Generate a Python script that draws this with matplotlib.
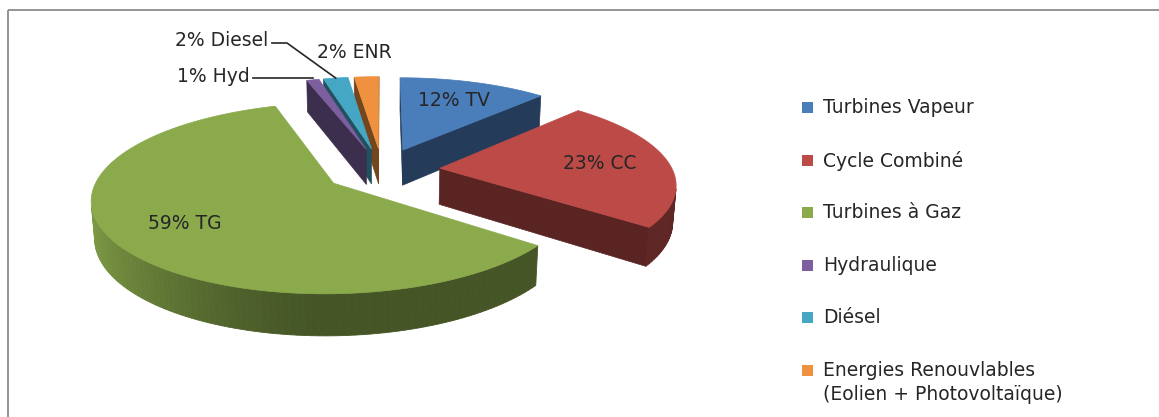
import numpy as np
import matplotlib
matplotlib.use("Agg")
import matplotlib.pyplot as plt
from matplotlib.patches import Polygon, Rectangle

# data
codes = ["TV", "CC", "TG", "Hyd", "Diesel", "ENR"]
shares = [12, 23, 59, 1, 2, 2]
legend_labels = ["Turbines Vapeur", "Cycle Combiné", "Turbines à Gaz",
                 "Hydraulique", "Diésel",
                 "Energies Renouvlables\n(Eolien + Photovoltaïque)"]
colors = ["#4a7ebb", "#bc4b47", "#8aaa4c", "#7d5fa0", "#45a7c4", "#f0913f"]

# 3d pie geometry (pixel space)
W, HPX = 1159, 417
CX, CY = 382, 170          # centre of the (unexploded) top face
S = 230                    # radius scale
ELEV = np.radians(24)
DIST = 6.0                 # camera distance, in radii
DEPTH = 0.17               # slice thickness, in radii
EXPLODE = 0.25
FONT = "DejaVu Sans"
FS = 13.5
INK = "#262626"

cam = np.array([0.0, -DIST * np.cos(ELEV), DIST * np.sin(ELEV)])
f0 = DIST / (DIST - DEPTH * np.sin(ELEV))
CY0 = CY + S * DEPTH * np.cos(ELEV) * f0


def proj(X, Y, Z):
    X, Y, Z = np.asarray(X, float), np.asarray(Y, float), np.asarray(Z, float)
    yc = Z * np.cos(ELEV) + Y * np.sin(ELEV)
    zc = Y * np.cos(ELEV) - Z * np.sin(ELEV)
    f = DIST / (DIST + zc)
    return CX + S * X * f, CY0 - S * yc * f


def shade(c, k):
    rgb = np.array(matplotlib.colors.to_rgb(c))
    return tuple(np.clip(rgb * k, 0, 1))


def visible(normal, point):
    return np.dot(normal, cam - point) > 0


fig = plt.figure(figsize=(W / 100, HPX / 100), dpi=100)
ax = fig.add_axes([0, 0, 1, 1])
ax.set_xlim(0, W)
ax.set_ylim(HPX, 0)
ax.axis("off")

vals = np.array(shares, float)
cum = np.concatenate([[0], np.cumsum(vals)]) / vals.sum()
t1s = np.radians(90 - 360 * cum[:-1])
t2s = np.radians(90 - 360 * cum[1:])

slices = []
for i in range(len(vals)):
    t1, t2 = t1s[i], t2s[i]
    mid = (t1 + t2) / 2
    ex, ey = EXPLODE * np.cos(mid), EXPLODE * np.sin(mid)
    slices.append((i, t1, t2, mid, ex, ey))

# far slices first
order = sorted(slices, key=lambda s: -(s[5] + 0.5 * np.sin(s[3])))

for i, t1, t2, mid, ex, ey in order:
    c = colors[i]
    n = max(int(abs(t1 - t2) / np.radians(1.5)), 2)
    ts = np.linspace(t1, t2, n + 1)
    # radial faces
    for t, nrm in ((t1, (-np.sin(t1), np.cos(t1))), (t2, (np.sin(t2), -np.cos(t2)))):
        p = np.array([ex + 0.5 * np.cos(t), ey + 0.5 * np.sin(t), DEPTH / 2])
        if visible(np.array([nrm[0], nrm[1], 0]), p):
            X = [ex, ex + np.cos(t), ex + np.cos(t), ex]
            Y = [ey, ey + np.sin(t), ey + np.sin(t), ey]
            Z = [DEPTH, DEPTH, 0, 0]
            x, y = proj(X, Y, Z)
            col = shade(c, 0.48)
            ax.add_patch(Polygon(np.c_[x, y], closed=True, fc=col, ec=col, lw=0.5))
    # outer wall, lit from the left
    for a, b in zip(ts[:-1], ts[1:]):
        tm = (a + b) / 2
        p = np.array([ex + np.cos(tm), ey + np.sin(tm), DEPTH / 2])
        if visible(np.array([np.cos(tm), np.sin(tm), 0]), p):
            X = [ex + np.cos(a), ex + np.cos(b), ex + np.cos(b), ex + np.cos(a)]
            Y = [ey + np.sin(a), ey + np.sin(b), ey + np.sin(b), ey + np.sin(a)]
            Z = [DEPTH, DEPTH, 0, 0]
            x, y = proj(X, Y, Z)
            k = 0.5 + 0.42 * max(0.0, -np.cos(tm)) ** 1.5
            col = shade(c, k)
            ax.add_patch(Polygon(np.c_[x, y], closed=True, fc=col, ec=col, lw=0.6))
    # top face
    X = np.concatenate([[ex], ex + np.cos(ts)])
    Y = np.concatenate([[ey], ey + np.sin(ts)])
    x, y = proj(X, Y, np.full(len(X), DEPTH))
    ax.add_patch(Polygon(np.c_[x, y], closed=True, fc=c, ec=c, lw=0.5))

# labels inside the big slices
for i, t1, t2, mid, ex, ey in slices:
    if vals[i] < 5:
        continue
    x, y = proj(ex + 0.7 * np.cos(mid), ey + 0.7 * np.sin(mid), DEPTH)
    ax.text(x, y, f"{shares[i]}% {codes[i]}", ha="center", va="center",
            fontsize=FS, family=FONT, color=INK)


def rim(i, r=1.0):
    _, t1, t2, mid, ex, ey = slices[i]
    return proj(ex + r * np.cos(mid), ey + r * np.sin(mid), DEPTH)


# outside labels for the small slices
hx, hy = rim(3)
ax.text(250, 76, f"{shares[3]}% {codes[3]}", ha="right", va="center",
        fontsize=FS, family=FONT, color=INK)
ax.plot([253, hx], [78, 78], color=INK, lw=1.2)

dx, dy = rim(4)
ax.text(268, 40, f"{shares[4]}% {codes[4]}", ha="right", va="center",
        fontsize=FS, family=FONT, color=INK)
ax.plot([272, 287, dx], [43, 43, dy], color=INK, lw=1.2)

ex_, ey_ = rim(5)
ax.text(ex_ - 12, 52, f"{shares[5]}% {codes[5]}", ha="center", va="center",
        fontsize=FS, family=FONT, color=INK)

# legend
for k, lab in enumerate(legend_labels):
    yy = 107 + 52.6 * k
    ax.add_patch(Rectangle((802, yy - 5), 11, 11, fc=colors[k], ec="none"))
    ax.text(823, yy - 9, lab, ha="left", va="top", fontsize=FS, family=FONT,
            color=INK, linespacing=1.3)

# chart border (right and bottom edges fall outside the picture)
ax.add_patch(Rectangle((8, 10), 1300, 500, fill=False, ec="#8c8c8c", lw=1.3))

fig.savefig("out.png", dpi=100)
